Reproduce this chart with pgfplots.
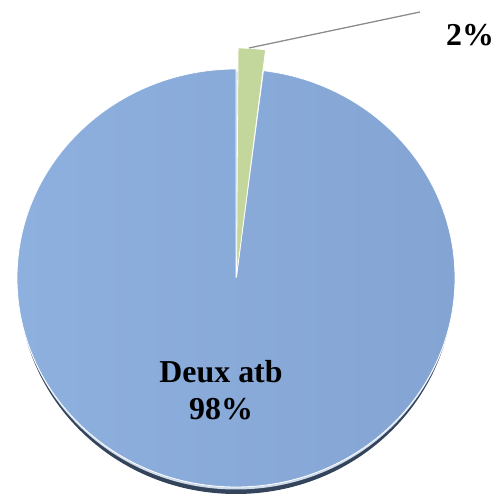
\documentclass[border=0pt]{standalone}
\usepackage{pgfplots}
\pgfplotsset{compat=1.18}
\usepackage{pgfplotstable}
\usepackage{fontspec}
\setmainfont{Liberation Serif}
\definecolor{blueL}{HTML}{8EB0DE}
\definecolor{blueR}{HTML}{84A5D3}
\definecolor{greenS}{HTML}{C3D69B}
\definecolor{rim}{HTML}{34445A}
\definecolor{leader}{HTML}{8C8C8C}
\pgfplotstableread{
label value
Deux 98
Autre 2
}\piedata
\begin{document}
\begin{tikzpicture}
\pgfplotstablegetelem{0}{value}\of\piedata \pgfmathsetmacro{\vA}{\pgfplotsretval}
\pgfplotstablegetelem{1}{value}\of\piedata \pgfmathsetmacro{\vB}{\pgfplotsretval}
\pgfmathsetmacro{\endA}{90+3.6*\vA}
\pgfmathsetmacro{\startB}{90-3.6*\vB}
\pgfkeys{/pgf/number format/assume math mode=true}
\begin{axis}[scale only axis, width=504bp, height=498bp,
  xmin=0, xmax=504, ymin=0, ymax=498, hide axis, clip=false]
\path (axis cs:0,0) rectangle (axis cs:504,498);
% rim
\fill[rim] (axis cs:236,213) ellipse [x radius=217bp, y radius=209bp];
\fill[white!60!blueR] (axis cs:236,217.5) ellipse [x radius=218.5bp, y radius=209bp];
% main slice
\shade[left color=blueL, right color=blueR, draw=white, line width=0.8bp]
  (axis cs:236,220) -- +(90:219bp and 209bp)
  arc[start angle=90, end angle=\endA, x radius=219bp, y radius=209bp] -- cycle;
% exploded slice
\fill[greenS, draw=white, line width=0.8bp]
  (axis cs:236.5,221) -- +(\startB:232bp and 229bp)
  arc[start angle=\startB, end angle=89.6, x radius=232bp, y radius=229bp] -- cycle;
% leader
\draw[leader, line width=1.3bp] (axis cs:249,450) -- (axis cs:420,486);
% labels
\node[font=\fontsize{32}{37}\selectfont\bfseries, align=center] at (axis cs:221,108)
  {Deux atb\\\pgfmathprintnumber[assume math mode=true]{\vA}\%};
\node[font=\fontsize{32}{37}\selectfont\bfseries] at (axis cs:470,463)
  {\pgfmathprintnumber[assume math mode=true]{\vB}\%};
\end{axis}
\end{tikzpicture}
\end{document}
